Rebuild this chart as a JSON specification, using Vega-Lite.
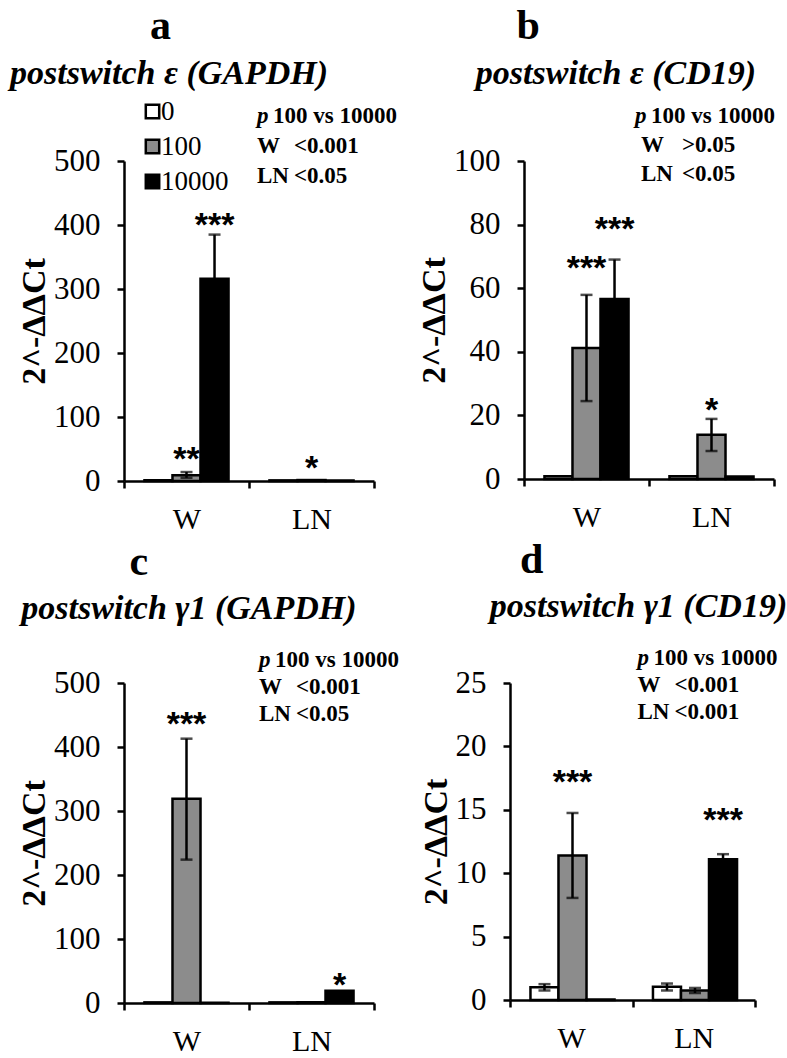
{
  "$schema": "https://vega.github.io/schema/vega-lite/v6.json",
  "background": "white",
  "padding": {"left": 9, "top": 4, "right": 0, "bottom": 0},
  "config": {
    "font": "Liberation Serif",
    "view": {"stroke": null},
    "axis": {
      "domainColor": "black", "domainWidth": 2.5, "tickColor": "black", "tickWidth": 2.5, "tickSize": 7,
      "labelFont": "Liberation Serif", "labelFontSize": 31, "labelColor": "black", "grid": false,
      "titleFont": "Liberation Serif", "titleFontWeight": "bold", "titleFontSize": 34, "titleColor": "black"
    },
    "axisY": {"labelPadding": 17, "titlePadding": 2},
    "axisX": {"labelPadding": 16, "labelFontSize": 30}
  },
  "datasets": {
    "bars": [
      {"p": "a", "g": "W", "d": "0", "v": 1.2},
      {"p": "a", "g": "W", "d": "100", "v": 9, "lo": 5, "hi": 14, "star": "**", "at": 33},
      {"p": "a", "g": "W", "d": "10000", "v": 316, "lo": 248, "hi": 385, "star": "***", "at": 399},
      {"p": "a", "g": "LN", "d": "0", "v": 1},
      {"p": "a", "g": "LN", "d": "100", "v": 1.5, "star": "*", "at": 19},
      {"p": "a", "g": "LN", "d": "10000", "v": 0.8},
      {"p": "b", "g": "W", "d": "0", "v": 0.9},
      {"p": "b", "g": "W", "d": "100", "v": 41.2, "lo": 24.5, "hi": 57.9, "star": "***", "at": 66},
      {"p": "b", "g": "W", "d": "10000", "v": 56.6, "lo": 44, "hi": 69, "star": "***", "at": 78.3},
      {"p": "b", "g": "LN", "d": "0", "v": 0.9},
      {"p": "b", "g": "LN", "d": "100", "v": 13.9, "lo": 8.8, "hi": 18.9, "star": "*", "at": 21.4},
      {"p": "b", "g": "LN", "d": "10000", "v": 0.8},
      {"p": "c", "g": "W", "d": "0", "v": 1},
      {"p": "c", "g": "W", "d": "100", "v": 319, "lo": 224, "hi": 413, "star": "***", "at": 434},
      {"p": "c", "g": "W", "d": "10000", "v": 0.5},
      {"p": "c", "g": "LN", "d": "0", "v": 1},
      {"p": "c", "g": "LN", "d": "100", "v": 1.2},
      {"p": "c", "g": "LN", "d": "10000", "v": 19, "star": "*", "at": 26.6},
      {"p": "d", "g": "W", "d": "0", "v": 1.0, "lo": 0.75, "hi": 1.25},
      {"p": "d", "g": "W", "d": "100", "v": 11.4, "lo": 8.05, "hi": 14.75, "star": "***", "at": 17.1},
      {"p": "d", "g": "W", "d": "10000", "v": 0.03},
      {"p": "d", "g": "LN", "d": "0", "v": 1.05, "lo": 0.75, "hi": 1.3},
      {"p": "d", "g": "LN", "d": "100", "v": 0.75, "lo": 0.55, "hi": 0.95},
      {"p": "d", "g": "LN", "d": "10000", "v": 11.1, "lo": 10.7, "hi": 11.5, "star": "***", "at": 14.1}
    ]
  },
  "resolve": {"scale": {"color": "independent"}, "legend": {"color": "independent"}},
  "spacing": 5,
  "vconcat": [
    {
      "hconcat": [
        {
          "title": {"text": "a", "font": "Liberation Serif", "fontSize": 42, "fontWeight": "bold", "anchor": "start", "dx": 140, "offset": 9, "color": "black"},
          "resolve": {"scale": {"color": "independent"}, "legend": {"color": "independent"}},
          "vconcat": [
            {
              "title": {"text": "postswitch ε (GAPDH)", "font": "Liberation Serif", "fontSize": 34, "fontStyle": "italic", "fontWeight": "bold", "anchor": "middle", "dx": -80, "offset": 7.5, "color": "black"},
              "width": 250, "height": 320,
              "layer": [
                {"data": {"name": "bars"}, "transform": [{"filter": "datum.p === 'a'"}],
                 "mark": {"type": "bar", "stroke": "black", "strokeWidth": 2.5},
                 "encoding": {
                   "x": {"field": "g", "type": "nominal", "sort": ["W", "LN"], "scale": {"paddingInner": 0, "paddingOuter": 0}, "axis": {"title": null, "labelAngle": 0, "tickBand": "extent"}},
                   "xOffset": {"field": "d", "type": "nominal", "sort": ["0", "100", "10000"], "scale": {"paddingInner": 0, "paddingOuter": 0.73}},
                   "y": {"field": "v", "type": "quantitative", "title": "2^-ΔΔCt", "scale": {"domain": [0, 500], "nice": false}, "axis": {"values": [0, 100, 200, 300, 400, 500]}},
                   "color": {"field": "d", "type": "nominal", "scale": {"domain": ["0", "100", "10000"], "range": ["#ffffff", "#8c8c8c", "#000000"]},
                     "legend": {"title": null, "orient": "none", "legendX": 15, "legendY": -63, "symbolType": "square", "symbolSize": 180, "symbolStrokeColor": "black", "symbolStrokeWidth": 2.5, "labelFont": "Liberation Serif", "labelFontSize": 27, "labelColor": "black", "rowPadding": 7, "labelOffset": -5}}
                 }},
                {"data": {"name": "bars"}, "transform": [{"filter": "datum.p === 'a' && isValid(datum.hi)"}],
                 "mark": {"type": "rule", "color": "black", "strokeWidth": 2.5},
                 "encoding": {"x": {"field": "g", "type": "nominal", "sort": ["W", "LN"]}, "xOffset": {"field": "d", "type": "nominal", "sort": ["0", "100", "10000"]}, "y": {"field": "lo", "type": "quantitative", "title": "2^-ΔΔCt"}, "y2": {"field": "hi"}}},
                {"data": {"name": "bars"}, "transform": [{"filter": "datum.p === 'a' && isValid(datum.hi)"}],
                 "mark": {"type": "tick", "color": "black", "thickness": 2.5, "size": 12},
                 "encoding": {"x": {"field": "g", "type": "nominal", "sort": ["W", "LN"]}, "xOffset": {"field": "d", "type": "nominal", "sort": ["0", "100", "10000"]}, "y": {"field": "hi", "type": "quantitative", "title": "2^-ΔΔCt"}}},
                {"data": {"name": "bars"}, "transform": [{"filter": "datum.p === 'a' && isValid(datum.lo)"}],
                 "mark": {"type": "tick", "color": "black", "thickness": 2.5, "size": 12},
                 "encoding": {"x": {"field": "g", "type": "nominal", "sort": ["W", "LN"]}, "xOffset": {"field": "d", "type": "nominal", "sort": ["0", "100", "10000"]}, "y": {"field": "lo", "type": "quantitative", "title": "2^-ΔΔCt"}}},
                {"data": {"name": "bars"}, "transform": [{"filter": "datum.p === 'a' && isValid(datum.star)"}],
                 "mark": {"type": "text", "font": "Liberation Sans", "fontSize": 34, "fontWeight": "bold", "baseline": "middle", "color": "black"},
                 "encoding": {"x": {"field": "g", "type": "nominal", "sort": ["W", "LN"]}, "xOffset": {"field": "d", "type": "nominal", "sort": ["0", "100", "10000"]}, "y": {"field": "at", "type": "quantitative", "title": "2^-ΔΔCt"}, "text": {"field": "star"}}},
                {"data": {"values": [{"t": "p"}]},
                 "mark": {"type": "text", "align": "left", "baseline": "top", "dx": 8, "font": "Liberation Serif", "fontSize": 23, "fontStyle": "italic", "fontWeight": "bold", "color": "black"},
                 "encoding": {"x": {"datum": "LN", "type": "nominal", "bandPosition": 0}, "y": {"datum": 587, "type": "quantitative", "title": "2^-ΔΔCt"}, "text": {"field": "t"}}},
                {"data": {"values": [{"t": "100 vs 10000"}]},
                 "mark": {"type": "text", "align": "left", "baseline": "top", "dx": 24, "font": "Liberation Serif", "fontSize": 23, "fontWeight": "bold", "color": "black"},
                 "encoding": {"x": {"datum": "LN", "type": "nominal", "bandPosition": 0}, "y": {"datum": 587, "type": "quantitative", "title": "2^-ΔΔCt"}, "text": {"field": "t"}}},
                {"data": {"values": [{"t": ["", "W", "LN"]}]},
                 "mark": {"type": "text", "align": "left", "baseline": "top", "dx": 8, "lineHeight": 30, "font": "Liberation Serif", "fontSize": 23, "fontWeight": "bold", "color": "black"},
                 "encoding": {"x": {"datum": "LN", "type": "nominal", "bandPosition": 0}, "y": {"datum": 587, "type": "quantitative", "title": "2^-ΔΔCt"}, "text": {"field": "t"}}},
                {"data": {"values": [{"t": ["", "<0.001", "<0.05"]}]},
                 "mark": {"type": "text", "align": "left", "baseline": "top", "dx": 45, "lineHeight": 30, "font": "Liberation Serif", "fontSize": 23, "fontWeight": "bold", "color": "black"},
                 "encoding": {"x": {"datum": "LN", "type": "nominal", "bandPosition": 0}, "y": {"datum": 587, "type": "quantitative", "title": "2^-ΔΔCt"}, "text": {"field": "t"}}}
              ]
            }
          ]
        },
        {
          "title": {"text": "b", "font": "Liberation Serif", "fontSize": 42, "fontWeight": "bold", "anchor": "start", "dx": 99, "offset": 9, "color": "black"},
          "resolve": {"scale": {"color": "independent"}, "legend": {"color": "independent"}},
          "vconcat": [
            {
              "title": {"text": "postswitch ε (CD19)", "font": "Liberation Serif", "fontSize": 34, "fontStyle": "italic", "fontWeight": "bold", "anchor": "middle", "dx": -33, "offset": 14.5, "color": "black"},
              "width": 250, "height": 318,
              "layer": [
                {"data": {"name": "bars"}, "transform": [{"filter": "datum.p === 'b'"}],
                 "mark": {"type": "bar", "stroke": "black", "strokeWidth": 2.5},
                 "encoding": {
                   "x": {"field": "g", "type": "nominal", "sort": ["W", "LN"], "scale": {"paddingInner": 0, "paddingOuter": 0}, "axis": {"title": null, "labelAngle": 0, "tickBand": "extent"}},
                   "xOffset": {"field": "d", "type": "nominal", "sort": ["0", "100", "10000"], "scale": {"paddingInner": 0, "paddingOuter": 0.73}},
                   "y": {"field": "v", "type": "quantitative", "title": "2^-ΔΔCt", "scale": {"domain": [0, 100], "nice": false}, "axis": {"values": [0, 20, 40, 60, 80, 100]}},
                   "color": {"field": "d", "type": "nominal", "scale": {"domain": ["0", "100", "10000"], "range": ["#ffffff", "#8c8c8c", "#000000"]}, "legend": null}
                 }},
                {"data": {"name": "bars"}, "transform": [{"filter": "datum.p === 'b' && isValid(datum.hi)"}],
                 "mark": {"type": "rule", "color": "black", "strokeWidth": 2.5},
                 "encoding": {"x": {"field": "g", "type": "nominal", "sort": ["W", "LN"]}, "xOffset": {"field": "d", "type": "nominal", "sort": ["0", "100", "10000"]}, "y": {"field": "lo", "type": "quantitative", "title": "2^-ΔΔCt"}, "y2": {"field": "hi"}}},
                {"data": {"name": "bars"}, "transform": [{"filter": "datum.p === 'b' && isValid(datum.hi)"}],
                 "mark": {"type": "tick", "color": "black", "thickness": 2.5, "size": 12},
                 "encoding": {"x": {"field": "g", "type": "nominal", "sort": ["W", "LN"]}, "xOffset": {"field": "d", "type": "nominal", "sort": ["0", "100", "10000"]}, "y": {"field": "hi", "type": "quantitative", "title": "2^-ΔΔCt"}}},
                {"data": {"name": "bars"}, "transform": [{"filter": "datum.p === 'b' && isValid(datum.lo)"}],
                 "mark": {"type": "tick", "color": "black", "thickness": 2.5, "size": 12},
                 "encoding": {"x": {"field": "g", "type": "nominal", "sort": ["W", "LN"]}, "xOffset": {"field": "d", "type": "nominal", "sort": ["0", "100", "10000"]}, "y": {"field": "lo", "type": "quantitative", "title": "2^-ΔΔCt"}}},
                {"data": {"name": "bars"}, "transform": [{"filter": "datum.p === 'b' && isValid(datum.star)"}],
                 "mark": {"type": "text", "font": "Liberation Sans", "fontSize": 34, "fontWeight": "bold", "baseline": "middle", "color": "black"},
                 "encoding": {"x": {"field": "g", "type": "nominal", "sort": ["W", "LN"]}, "xOffset": {"field": "d", "type": "nominal", "sort": ["0", "100", "10000"]}, "y": {"field": "at", "type": "quantitative", "title": "2^-ΔΔCt"}, "text": {"field": "star"}}},
                {"data": {"values": [{"t": "p"}]},
                 "mark": {"type": "text", "align": "left", "baseline": "top", "dx": -14, "font": "Liberation Serif", "fontSize": 23, "fontStyle": "italic", "fontWeight": "bold", "color": "black"},
                 "encoding": {"x": {"datum": "LN", "type": "nominal", "bandPosition": 0}, "y": {"datum": 117.6, "type": "quantitative", "title": "2^-ΔΔCt"}, "text": {"field": "t"}}},
                {"data": {"values": [{"t": "100 vs 10000"}]},
                 "mark": {"type": "text", "align": "left", "baseline": "top", "dx": 2, "font": "Liberation Serif", "fontSize": 23, "fontWeight": "bold", "color": "black"},
                 "encoding": {"x": {"datum": "LN", "type": "nominal", "bandPosition": 0}, "y": {"datum": 117.6, "type": "quantitative", "title": "2^-ΔΔCt"}, "text": {"field": "t"}}},
                {"data": {"values": [{"t": ["", "W", "LN"]}]},
                 "mark": {"type": "text", "align": "left", "baseline": "top", "dx": -8, "lineHeight": 29, "font": "Liberation Serif", "fontSize": 23, "fontWeight": "bold", "color": "black"},
                 "encoding": {"x": {"datum": "LN", "type": "nominal", "bandPosition": 0}, "y": {"datum": 117.6, "type": "quantitative", "title": "2^-ΔΔCt"}, "text": {"field": "t"}}},
                {"data": {"values": [{"t": ["", ">0.05", "<0.05"]}]},
                 "mark": {"type": "text", "align": "left", "baseline": "top", "dx": 33, "lineHeight": 29, "font": "Liberation Serif", "fontSize": 23, "fontWeight": "bold", "color": "black"},
                 "encoding": {"x": {"datum": "LN", "type": "nominal", "bandPosition": 0}, "y": {"datum": 117.6, "type": "quantitative", "title": "2^-ΔΔCt"}, "text": {"field": "t"}}}
              ]
            }
          ]
        }
      ],
      "spacing": 20,
      "resolve": {"scale": {"color": "independent"}, "legend": {"color": "independent"}}
    },
    {
      "hconcat": [
        {
          "title": {"text": "c", "font": "Liberation Serif", "fontSize": 42, "fontWeight": "bold", "anchor": "start", "dx": 112, "offset": 8, "color": "black"},
          "resolve": {"scale": {"color": "independent"}, "legend": {"color": "independent"}},
          "vconcat": [
            {
              "title": {"text": "postswitch γ1 (GAPDH)", "font": "Liberation Serif", "fontSize": 34, "fontStyle": "italic", "fontWeight": "bold", "anchor": "middle", "dx": -60, "offset": 23, "color": "black"},
              "width": 250, "height": 320,
              "layer": [
                {"data": {"name": "bars"}, "transform": [{"filter": "datum.p === 'c'"}],
                 "mark": {"type": "bar", "stroke": "black", "strokeWidth": 2.5},
                 "encoding": {
                   "x": {"field": "g", "type": "nominal", "sort": ["W", "LN"], "scale": {"paddingInner": 0, "paddingOuter": 0}, "axis": {"title": null, "labelAngle": 0, "tickBand": "extent"}},
                   "xOffset": {"field": "d", "type": "nominal", "sort": ["0", "100", "10000"], "scale": {"paddingInner": 0, "paddingOuter": 0.73}},
                   "y": {"field": "v", "type": "quantitative", "title": "2^-ΔΔCt", "scale": {"domain": [0, 500], "nice": false}, "axis": {"values": [0, 100, 200, 300, 400, 500]}},
                   "color": {"field": "d", "type": "nominal", "scale": {"domain": ["0", "100", "10000"], "range": ["#ffffff", "#8c8c8c", "#000000"]}, "legend": null}
                 }},
                {"data": {"name": "bars"}, "transform": [{"filter": "datum.p === 'c' && isValid(datum.hi)"}],
                 "mark": {"type": "rule", "color": "black", "strokeWidth": 2.5},
                 "encoding": {"x": {"field": "g", "type": "nominal", "sort": ["W", "LN"]}, "xOffset": {"field": "d", "type": "nominal", "sort": ["0", "100", "10000"]}, "y": {"field": "lo", "type": "quantitative", "title": "2^-ΔΔCt"}, "y2": {"field": "hi"}}},
                {"data": {"name": "bars"}, "transform": [{"filter": "datum.p === 'c' && isValid(datum.hi)"}],
                 "mark": {"type": "tick", "color": "black", "thickness": 2.5, "size": 12},
                 "encoding": {"x": {"field": "g", "type": "nominal", "sort": ["W", "LN"]}, "xOffset": {"field": "d", "type": "nominal", "sort": ["0", "100", "10000"]}, "y": {"field": "hi", "type": "quantitative", "title": "2^-ΔΔCt"}}},
                {"data": {"name": "bars"}, "transform": [{"filter": "datum.p === 'c' && isValid(datum.lo)"}],
                 "mark": {"type": "tick", "color": "black", "thickness": 2.5, "size": 12},
                 "encoding": {"x": {"field": "g", "type": "nominal", "sort": ["W", "LN"]}, "xOffset": {"field": "d", "type": "nominal", "sort": ["0", "100", "10000"]}, "y": {"field": "lo", "type": "quantitative", "title": "2^-ΔΔCt"}}},
                {"data": {"name": "bars"}, "transform": [{"filter": "datum.p === 'c' && isValid(datum.star)"}],
                 "mark": {"type": "text", "font": "Liberation Sans", "fontSize": 34, "fontWeight": "bold", "baseline": "middle", "color": "black"},
                 "encoding": {"x": {"field": "g", "type": "nominal", "sort": ["W", "LN"]}, "xOffset": {"field": "d", "type": "nominal", "sort": ["0", "100", "10000"]}, "y": {"field": "at", "type": "quantitative", "title": "2^-ΔΔCt"}, "text": {"field": "star"}}},
                {"data": {"values": [{"t": "p"}]},
                 "mark": {"type": "text", "align": "left", "baseline": "top", "dx": 10, "font": "Liberation Serif", "fontSize": 23, "fontStyle": "italic", "fontWeight": "bold", "color": "black"},
                 "encoding": {"x": {"datum": "LN", "type": "nominal", "bandPosition": 0}, "y": {"datum": 553, "type": "quantitative", "title": "2^-ΔΔCt"}, "text": {"field": "t"}}},
                {"data": {"values": [{"t": "100 vs 10000"}]},
                 "mark": {"type": "text", "align": "left", "baseline": "top", "dx": 26, "font": "Liberation Serif", "fontSize": 23, "fontWeight": "bold", "color": "black"},
                 "encoding": {"x": {"datum": "LN", "type": "nominal", "bandPosition": 0}, "y": {"datum": 553, "type": "quantitative", "title": "2^-ΔΔCt"}, "text": {"field": "t"}}},
                {"data": {"values": [{"t": ["", "W", "LN"]}]},
                 "mark": {"type": "text", "align": "left", "baseline": "top", "dx": 10, "lineHeight": 27, "font": "Liberation Serif", "fontSize": 23, "fontWeight": "bold", "color": "black"},
                 "encoding": {"x": {"datum": "LN", "type": "nominal", "bandPosition": 0}, "y": {"datum": 553, "type": "quantitative", "title": "2^-ΔΔCt"}, "text": {"field": "t"}}},
                {"data": {"values": [{"t": ["", "<0.001", "<0.05"]}]},
                 "mark": {"type": "text", "align": "left", "baseline": "top", "dx": 47, "lineHeight": 27, "font": "Liberation Serif", "fontSize": 23, "fontWeight": "bold", "color": "black"},
                 "encoding": {"x": {"datum": "LN", "type": "nominal", "bandPosition": 0}, "y": {"datum": 553, "type": "quantitative", "title": "2^-ΔΔCt"}, "text": {"field": "t"}}}
              ]
            }
          ]
        },
        {
          "title": {"text": "d", "font": "Liberation Serif", "fontSize": 42, "fontWeight": "bold", "anchor": "start", "dx": 101, "offset": 8, "color": "black"},
          "resolve": {"scale": {"color": "independent"}, "legend": {"color": "independent"}},
          "vconcat": [
            {
              "title": {"text": "postswitch γ1 (CD19)", "font": "Liberation Serif", "fontSize": 34, "fontStyle": "italic", "fontWeight": "bold", "anchor": "middle", "dx": 6, "offset": 23, "color": "black"},
              "width": 245, "height": 317,
              "layer": [
                {"data": {"name": "bars"}, "transform": [{"filter": "datum.p === 'd'"}],
                 "mark": {"type": "bar", "stroke": "black", "strokeWidth": 2.5},
                 "encoding": {
                   "x": {"field": "g", "type": "nominal", "sort": ["W", "LN"], "scale": {"paddingInner": 0, "paddingOuter": 0}, "axis": {"title": null, "labelAngle": 0, "tickBand": "extent"}},
                   "xOffset": {"field": "d", "type": "nominal", "sort": ["0", "100", "10000"], "scale": {"paddingInner": 0, "paddingOuter": 0.73}},
                   "y": {"field": "v", "type": "quantitative", "title": "2^-ΔΔCt", "scale": {"domain": [0, 25], "nice": false}, "axis": {"values": [0, 5, 10, 15, 20, 25]}},
                   "color": {"field": "d", "type": "nominal", "scale": {"domain": ["0", "100", "10000"], "range": ["#ffffff", "#8c8c8c", "#000000"]}, "legend": null}
                 }},
                {"data": {"name": "bars"}, "transform": [{"filter": "datum.p === 'd' && isValid(datum.hi)"}],
                 "mark": {"type": "rule", "color": "black", "strokeWidth": 2.5},
                 "encoding": {"x": {"field": "g", "type": "nominal", "sort": ["W", "LN"]}, "xOffset": {"field": "d", "type": "nominal", "sort": ["0", "100", "10000"]}, "y": {"field": "lo", "type": "quantitative", "title": "2^-ΔΔCt"}, "y2": {"field": "hi"}}},
                {"data": {"name": "bars"}, "transform": [{"filter": "datum.p === 'd' && isValid(datum.hi)"}],
                 "mark": {"type": "tick", "color": "black", "thickness": 2.5, "size": 12},
                 "encoding": {"x": {"field": "g", "type": "nominal", "sort": ["W", "LN"]}, "xOffset": {"field": "d", "type": "nominal", "sort": ["0", "100", "10000"]}, "y": {"field": "hi", "type": "quantitative", "title": "2^-ΔΔCt"}}},
                {"data": {"name": "bars"}, "transform": [{"filter": "datum.p === 'd' && isValid(datum.lo)"}],
                 "mark": {"type": "tick", "color": "black", "thickness": 2.5, "size": 12},
                 "encoding": {"x": {"field": "g", "type": "nominal", "sort": ["W", "LN"]}, "xOffset": {"field": "d", "type": "nominal", "sort": ["0", "100", "10000"]}, "y": {"field": "lo", "type": "quantitative", "title": "2^-ΔΔCt"}}},
                {"data": {"name": "bars"}, "transform": [{"filter": "datum.p === 'd' && isValid(datum.star)"}],
                 "mark": {"type": "text", "font": "Liberation Sans", "fontSize": 34, "fontWeight": "bold", "baseline": "middle", "color": "black"},
                 "encoding": {"x": {"field": "g", "type": "nominal", "sort": ["W", "LN"]}, "xOffset": {"field": "d", "type": "nominal", "sort": ["0", "100", "10000"]}, "y": {"field": "at", "type": "quantitative", "title": "2^-ΔΔCt"}, "text": {"field": "star"}}},
                {"data": {"values": [{"t": "p"}]},
                 "mark": {"type": "text", "align": "left", "baseline": "top", "dx": 5, "font": "Liberation Serif", "fontSize": 23, "fontStyle": "italic", "fontWeight": "bold", "color": "black"},
                 "encoding": {"x": {"datum": "LN", "type": "nominal", "bandPosition": 0}, "y": {"datum": 27.8, "type": "quantitative", "title": "2^-ΔΔCt"}, "text": {"field": "t"}}},
                {"data": {"values": [{"t": "100 vs 10000"}]},
                 "mark": {"type": "text", "align": "left", "baseline": "top", "dx": 21, "font": "Liberation Serif", "fontSize": 23, "fontWeight": "bold", "color": "black"},
                 "encoding": {"x": {"datum": "LN", "type": "nominal", "bandPosition": 0}, "y": {"datum": 27.8, "type": "quantitative", "title": "2^-ΔΔCt"}, "text": {"field": "t"}}},
                {"data": {"values": [{"t": ["", "W", "LN"]}]},
                 "mark": {"type": "text", "align": "left", "baseline": "top", "dx": 5, "lineHeight": 27, "font": "Liberation Serif", "fontSize": 23, "fontWeight": "bold", "color": "black"},
                 "encoding": {"x": {"datum": "LN", "type": "nominal", "bandPosition": 0}, "y": {"datum": 27.8, "type": "quantitative", "title": "2^-ΔΔCt"}, "text": {"field": "t"}}},
                {"data": {"values": [{"t": ["", "<0.001", "<0.001"]}]},
                 "mark": {"type": "text", "align": "left", "baseline": "top", "dx": 42, "lineHeight": 27, "font": "Liberation Serif", "fontSize": 23, "fontWeight": "bold", "color": "black"},
                 "encoding": {"x": {"datum": "LN", "type": "nominal", "bandPosition": 0}, "y": {"datum": 27.8, "type": "quantitative", "title": "2^-ΔΔCt"}, "text": {"field": "t"}}}
              ]
            }
          ]
        }
      ],
      "spacing": 20,
      "resolve": {"scale": {"color": "independent"}, "legend": {"color": "independent"}}
    }
  ]
}
